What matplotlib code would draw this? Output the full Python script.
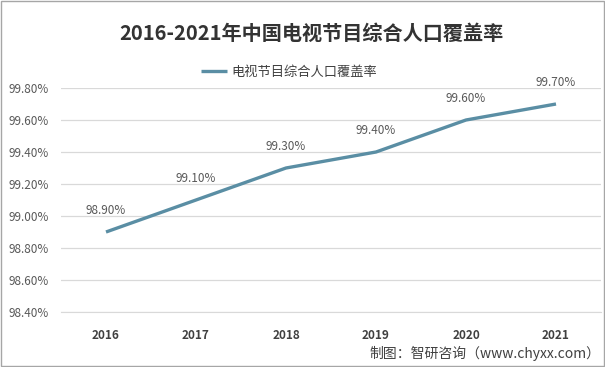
import matplotlib.pyplot as plt
from matplotlib.patches import Rectangle

plt.rcParams['font.family'] = ['Noto Sans CJK SC', 'DejaVu Sans']

years = ['2016', '2017', '2018', '2019', '2020', '2021']
coverage = [98.90, 99.10, 99.30, 99.40, 99.60, 99.70]
yticks = [98.40, 98.60, 98.80, 99.00, 99.20, 99.40, 99.60, 99.80]

W, H = 605, 367
fig = plt.figure(figsize=(W / 100, H / 100), dpi=100)
# axes area in pixels: left 61, right 601, top 88, bottom 312
ax = fig.add_axes([61 / W, 1 - 312 / H, 540 / W, 224 / H])

x = list(range(len(years)))
ax.plot(x, coverage, color='#5a8ea4', lw=2.4, solid_capstyle='butt',
        label='电视节目综合人口覆盖率', zorder=3)
for xi, v in zip(x, coverage):
    ax.annotate(f'{v:.2f}%', (xi, v), xytext=(0, 11), textcoords='offset points',
                ha='center', va='bottom', fontsize=8.5, color='#595959')

ax.set_xlim(-0.5, len(years) - 0.5)
ax.set_ylim(98.40, 99.80)
ax.set_yticks(yticks)
ax.set_yticklabels([f'{t:.2f}%' for t in yticks], fontsize=8.5, color='#595959')
ax.set_xticks(x)
ax.set_xticklabels(years, fontsize=8.5, fontweight='bold', color='#404040')
ax.tick_params(length=0, pad=9)
ax.tick_params(axis='x', pad=12)
ax.grid(axis='y', color='#d9d9d9', lw=0.9)
for s in ['top', 'right', 'left']:
    ax.spines[s].set_visible(False)
ax.spines['bottom'].set_color('#d9d9d9')
ax.set_axisbelow(True)

fig.text(311 / W, 1 - 33 / H, '2016-2021年中国电视节目综合人口覆盖率', ha='center', va='center',
         fontsize=14.5, fontweight='bold', color='#333333')
ax.legend(loc='center', bbox_to_anchor=((289 - 61) / 540, 1 + 16 / 224), frameon=False,
          fontsize=9.5, handlelength=2.0, handletextpad=0.3, labelcolor='#404040')
fig.text(600 / W, 1 - 353 / H, '制图：智研咨询（www.chyxx.com）', ha='right', va='center',
         fontsize=10, color='#404040')

fig.patches.append(Rectangle((0.001, 0.002), 0.997, 0.995, transform=fig.transFigure,
                             fill=False, edgecolor='#a6a6a6', lw=1))

fig.savefig('out.png', dpi=100)
